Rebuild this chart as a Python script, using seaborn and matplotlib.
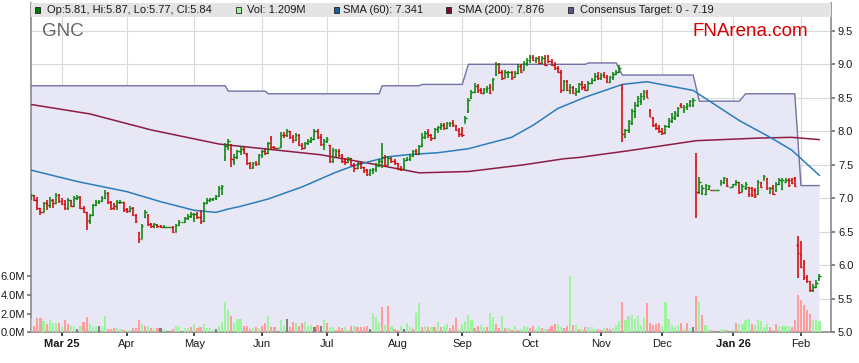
import numpy as np
import pandas as pd
import matplotlib
matplotlib.use("Agg")
import matplotlib.pyplot as plt
from matplotlib.patches import Rectangle
import seaborn as sns

# daily bars, one per weekday from 17 Feb 2025 to 10 Feb 2026
opens = [
    7.02, 7.05, 6.98, 6.85, 6.80, 6.93, 6.90, 6.97, 6.93, 7.05,
    6.96, 6.92, 6.85, 6.97, 6.88, 7.00, 7.02, 6.86, 6.80, 6.66,
    6.75, 6.90, 6.95, 6.96, 7.01, 7.08, 6.94, 6.92, 6.89, 6.95,
    6.95, 6.84, 6.81, 6.86, 6.75, 6.50, 6.40, 6.72, 6.75, 6.62,
    6.57, 6.60, 6.58, 6.57, 6.57, 6.57, 6.57, 6.50, 6.60, 6.65,
    6.65, 6.70, 6.74, 6.72, 6.76, 6.72, 6.66, 6.93, 6.98, 6.99,
    7.00, 7.03, 7.15, 7.62, 7.78, 7.80, 7.56, 7.62, 7.70, 7.74,
    7.66, 7.52, 7.46, 7.52, 7.51, 7.64, 7.70, 7.68, 7.90, 7.76,
    7.75, 7.76, 7.95, 7.94, 8.00, 7.91, 7.87, 7.95, 7.80, 7.75,
    7.82, 7.86, 7.89, 8.00, 7.92, 7.81, 7.86, 7.80, 7.55, 7.66,
    7.70, 7.64, 7.55, 7.54, 7.60, 7.50, 7.45, 7.52, 7.46, 7.42,
    7.36, 7.42, 7.44, 7.48, 7.55, 7.62, 7.50, 7.60, 7.55, 7.52,
    7.44, 7.43, 7.57, 7.58, 7.63, 7.70, 7.66, 7.78, 7.92, 7.97,
    7.94, 7.90, 8.03, 8.06, 8.10, 8.05, 8.10, 8.12, 8.09, 8.02,
    7.98, 8.12, 8.30, 8.50, 8.59, 8.67, 8.62, 8.57, 8.63, 8.66,
    8.62, 8.85, 9.00, 8.89, 8.80, 8.86, 8.88, 8.81, 8.87, 8.97,
    8.92, 9.02, 9.07, 9.11, 9.07, 9.09, 9.02, 9.10, 9.12, 9.05,
    8.99, 8.94, 8.89, 8.62, 8.75, 8.62, 8.66, 8.57, 8.60, 8.70,
    8.66, 8.62, 8.72, 8.77, 8.82, 8.80, 8.84, 8.81, 8.74, 8.81,
    8.86, 8.89, 8.65, 7.92, 8.02, 8.12, 8.30, 8.40, 8.45, 8.52,
    8.60, 8.32, 8.20, 8.10, 8.05, 8.00, 7.97, 8.08, 8.15, 8.20,
    8.25, 8.40, 8.32, 8.37, 8.38, 8.40, 7.55, 7.10, 7.08, 7.07,
    7.14, 7.13, 7.12, 7.12, 7.20, 7.25, 7.28, 7.17, 7.17, 7.20,
    7.24, 7.10, 7.15, 7.17, 7.15, 7.12, 7.07, 7.25, 7.28, 7.30,
    7.10, 7.18, 7.12, 7.22, 7.14, 7.25, 7.28, 7.28, 7.30, 6.30,
    6.15, 6.05, 5.83, 5.76, 5.63, 5.68, 5.81,
]
highs = [
    7.07, 7.05, 7.02, 6.86, 6.95, 6.97, 7.02, 6.99, 7.08, 7.06,
    7.00, 6.97, 7.00, 6.98, 7.03, 7.05, 7.03, 6.88, 6.80, 6.77,
    6.92, 6.97, 6.98, 7.03, 7.12, 7.10, 6.96, 6.93, 6.97, 6.97,
    6.95, 6.86, 6.88, 6.87, 6.76, 6.50, 6.62, 6.83, 6.76, 6.63,
    6.63, 6.62, 6.60, 6.60, 6.57, 6.57, 6.58, 6.62, 6.67, 6.65,
    6.72, 6.76, 6.79, 6.78, 6.80, 6.83, 6.95, 7.00, 7.00, 7.00,
    7.05, 7.18, 7.20, 7.82, 7.88, 7.81, 7.66, 7.72, 7.78, 7.76,
    7.67, 7.54, 7.54, 7.56, 7.66, 7.72, 7.73, 7.84, 7.93, 7.78,
    7.75, 7.99, 7.99, 8.03, 8.01, 7.95, 7.98, 7.96, 7.83, 7.84,
    7.88, 7.92, 8.03, 8.03, 7.96, 7.88, 7.92, 7.80, 7.75, 7.74,
    7.73, 7.66, 7.60, 7.62, 7.60, 7.52, 7.54, 7.54, 7.47, 7.43,
    7.44, 7.45, 7.52, 7.58, 7.82, 7.64, 7.63, 7.62, 7.59, 7.53,
    7.48, 7.60, 7.62, 7.66, 7.72, 7.74, 7.80, 7.98, 8.00, 8.03,
    7.96, 8.05, 8.08, 8.13, 8.12, 8.14, 8.14, 8.17, 8.10, 8.05,
    8.07, 8.23, 8.49, 8.62, 8.72, 8.70, 8.65, 8.65, 8.67, 8.70,
    8.80, 9.03, 9.02, 8.92, 8.92, 8.90, 8.90, 8.90, 9.00, 9.00,
    9.05, 9.10, 9.14, 9.14, 9.11, 9.12, 9.13, 9.14, 9.14, 9.08,
    9.03, 8.97, 8.92, 8.77, 8.77, 8.70, 8.67, 8.64, 8.72, 8.75,
    8.70, 8.75, 8.80, 8.87, 8.89, 8.87, 8.89, 8.84, 8.83, 8.88,
    8.91, 8.99, 8.70, 8.04, 8.17, 8.34, 8.44, 8.52, 8.57, 8.62,
    8.62, 8.34, 8.22, 8.12, 8.10, 8.05, 8.10, 8.20, 8.27, 8.30,
    8.37, 8.42, 8.40, 8.42, 8.47, 8.49, 7.67, 7.32, 7.20, 7.22,
    7.20, 7.13, 7.12, 7.13, 7.27, 7.32, 7.30, 7.17, 7.22, 7.27,
    7.25, 7.22, 7.25, 7.17, 7.17, 7.15, 7.27, 7.25, 7.35, 7.30,
    7.17, 7.20, 7.25, 7.30, 7.30, 7.30, 7.30, 7.30, 7.32, 6.43,
    6.36, 6.08, 5.86, 5.77, 5.72, 5.78, 5.87,
]
lows = [
    6.97, 6.96, 6.82, 6.75, 6.80, 6.83, 6.85, 6.85, 6.92, 6.93,
    6.90, 6.83, 6.83, 6.87, 6.87, 6.97, 6.84, 6.78, 6.53, 6.62,
    6.73, 6.88, 6.92, 6.94, 6.99, 6.92, 6.82, 6.82, 6.83, 6.91,
    6.80, 6.78, 6.80, 6.73, 6.63, 6.33, 6.40, 6.70, 6.58, 6.55,
    6.56, 6.55, 6.55, 6.55, 6.57, 6.57, 6.48, 6.50, 6.58, 6.65,
    6.63, 6.68, 6.71, 6.65, 6.69, 6.62, 6.65, 6.92, 6.94, 6.96,
    6.97, 7.02, 7.05, 7.55, 7.72, 7.47, 7.50, 7.58, 7.65, 7.66,
    7.50, 7.43, 7.44, 7.48, 7.50, 7.60, 7.64, 7.66, 7.72, 7.73,
    7.75, 7.76, 7.90, 7.92, 7.88, 7.83, 7.85, 7.78, 7.72, 7.73,
    7.80, 7.82, 7.87, 7.88, 7.78, 7.72, 7.82, 7.52, 7.52, 7.62,
    7.62, 7.52, 7.50, 7.52, 7.48, 7.40, 7.44, 7.44, 7.38, 7.34,
    7.34, 7.36, 7.40, 7.46, 7.45, 7.46, 7.49, 7.53, 7.50, 7.42,
    7.41, 7.42, 7.55, 7.56, 7.62, 7.64, 7.65, 7.76, 7.88, 7.90,
    7.86, 7.88, 7.98, 8.02, 8.02, 8.04, 8.06, 8.06, 8.00, 7.92,
    7.92, 8.12, 8.28, 8.48, 8.57, 8.57, 8.55, 8.56, 8.57, 8.55,
    8.62, 8.82, 8.86, 8.77, 8.79, 8.80, 8.77, 8.81, 8.86, 8.87,
    8.92, 8.98, 9.02, 9.05, 9.02, 9.00, 9.01, 8.97, 9.02, 8.97,
    8.92, 8.87, 8.57, 8.62, 8.60, 8.55, 8.55, 8.52, 8.57, 8.62,
    8.60, 8.62, 8.70, 8.75, 8.77, 8.77, 8.79, 8.72, 8.72, 8.77,
    8.84, 8.87, 7.84, 7.90, 7.97, 8.10, 8.20, 8.37, 8.40, 8.47,
    8.49, 8.21, 8.07, 8.02, 7.98, 7.95, 7.96, 8.05, 8.12, 8.17,
    8.22, 8.35, 8.27, 8.32, 8.36, 8.36, 6.70, 7.07, 7.05, 7.05,
    7.12, 7.12, 7.12, 7.12, 7.20, 7.22, 7.17, 7.17, 7.17, 7.20,
    7.07, 7.10, 7.12, 7.02, 7.02, 7.00, 7.07, 7.15, 7.27, 7.12,
    7.07, 7.05, 7.10, 7.20, 7.12, 7.24, 7.17, 7.22, 7.17, 5.81,
    5.96, 5.78, 5.73, 5.60, 5.60, 5.66, 5.77,
]
closes = [
    7.05, 6.98, 6.85, 6.80, 6.93, 6.90, 6.97, 6.93, 7.05, 6.96,
    6.92, 6.85, 6.97, 6.88, 7.00, 7.02, 6.86, 6.80, 6.68, 6.75,
    6.90, 6.95, 6.96, 7.01, 7.08, 6.94, 6.85, 6.89, 6.95, 6.95,
    6.82, 6.81, 6.86, 6.75, 6.66, 6.40, 6.58, 6.80, 6.62, 6.58,
    6.61, 6.58, 6.57, 6.57, 6.57, 6.57, 6.50, 6.60, 6.65, 6.65,
    6.70, 6.74, 6.77, 6.76, 6.72, 6.66, 6.93, 6.98, 6.99, 7.00,
    7.03, 7.15, 7.18, 7.78, 7.86, 7.58, 7.62, 7.70, 7.74, 7.68,
    7.52, 7.45, 7.52, 7.51, 7.64, 7.70, 7.68, 7.82, 7.76, 7.75,
    7.75, 7.95, 7.94, 8.00, 7.91, 7.87, 7.95, 7.80, 7.75, 7.82,
    7.86, 7.89, 8.00, 7.92, 7.81, 7.86, 7.88, 7.55, 7.72, 7.70,
    7.64, 7.55, 7.54, 7.60, 7.50, 7.45, 7.52, 7.46, 7.42, 7.36,
    7.42, 7.44, 7.48, 7.55, 7.62, 7.50, 7.60, 7.55, 7.52, 7.44,
    7.43, 7.57, 7.58, 7.63, 7.70, 7.66, 7.78, 7.92, 7.97, 7.94,
    7.90, 8.03, 8.06, 8.10, 8.05, 8.12, 8.12, 8.09, 8.02, 7.96,
    7.95, 8.20, 8.46, 8.59, 8.67, 8.62, 8.57, 8.63, 8.64, 8.57,
    8.78, 9.00, 8.89, 8.80, 8.89, 8.88, 8.81, 8.87, 8.97, 8.89,
    9.02, 9.07, 9.11, 9.07, 9.09, 9.02, 9.10, 8.99, 9.05, 8.99,
    8.94, 8.89, 8.62, 8.75, 8.62, 8.66, 8.57, 8.60, 8.70, 8.66,
    8.62, 8.72, 8.77, 8.82, 8.80, 8.84, 8.81, 8.74, 8.81, 8.86,
    8.89, 8.95, 7.96, 8.02, 8.15, 8.30, 8.40, 8.50, 8.53, 8.58,
    8.50, 8.22, 8.10, 8.05, 8.00, 7.97, 8.08, 8.17, 8.22, 8.27,
    8.35, 8.37, 8.37, 8.40, 8.45, 8.46, 7.10, 7.25, 7.15, 7.20,
    7.18, 7.12, 7.12, 7.12, 7.25, 7.30, 7.18, 7.17, 7.21, 7.25,
    7.10, 7.18, 7.22, 7.07, 7.05, 7.04, 7.24, 7.17, 7.33, 7.15,
    7.15, 7.07, 7.22, 7.28, 7.27, 7.28, 7.20, 7.23, 7.19, 6.18,
    5.98, 5.83, 5.76, 5.63, 5.68, 5.74, 5.84,
]
# volume in millions, and the colour of each volume bar (u up, d down, n unchanged)
volumes = [
    1.5, 0.7, 1.5, 1.5, 1.2, 0.85, 1.3, 1.0, 1.0, 1.0,
    0.55, 1.3, 0.85, 0.65, 0.7, 0.4, 0.7, 1.15, 1.6, 0.85,
    0.6, 0.7, 0.7, 0.6, 1.7, 0.4, 0.4, 0.5, 0.45, 0.4,
    0.3, 0.2, 0.25, 0.5, 0.45, 1.3, 0.85, 0.7, 0.7, 0.5,
    0.4, 0.5, 0.5, 0.4, 0, 0, 0.4, 0.7, 0.65, 0,
    0.5, 0.45, 0.6, 0.85, 0.5, 0.6, 0.85, 0.5, 0.45, 0.3,
    0.4, 0.7, 1.1, 3.3, 2.4, 1.8, 1.0, 1.45, 1.4, 0.7,
    0.7, 0.4, 0.5, 0.6, 0.5, 0.7, 1.0, 1.7, 0.6, 0.6,
    0, 1.3, 0.7, 1.4, 0.6, 1.07, 0.96, 0.7, 0.96, 1.07,
    0.7, 0.82, 0.54, 0.82, 0.7, 1.36, 1.04, 0.6, 0.54, 0.29,
    0.6, 0.43, 0.54, 0.29, 0.7, 0.7, 0.6, 0.54, 0.6, 0.7,
    0.36, 2.04, 1.6, 0.96, 2.68, 0.82, 2.79, 0.7, 0.36, 0.29,
    0.7, 0.36, 1.04, 0.6, 0.36, 2.1, 3.18, 0.6, 0.7, 0.6,
    0.6, 0.6, 1.14, 0.6, 0.7, 0.93, 0.5, 0.82, 1.57, 0.39,
    0.93, 1.25, 1.9, 1.36, 0.5, 0.7, 0.82, 0.6, 0.6, 2.1,
    1.68, 0.93, 0.5, 1.79, 0.5, 0.46, 0.29, 0.7, 0.29, 0.39,
    0.7, 0.6, 0.5, 0.7, 0.39, 0.7, 0.5, 0.39, 0.39, 0.7,
    0.93, 0.93, 0.6, 0.5, 0.7, 6.0, 0.73, 0.73, 0.4, 0.4,
    0.55, 0.62, 0.62, 0.4, 0.4, 0.29, 0.51, 0.51, 0.4, 0.51,
    0.73, 1.16, 3.24, 1.27, 1.71, 1.82, 1.38, 1.71, 0.73, 1.49,
    3.09, 1.05, 0.73, 0.91, 1.05, 0.7, 3.24, 1.45, 0.73, 0.62,
    0.73, 1.05, 0.4, 1.0, 0.4, 0.62, 3.9, 3.24, 1.82, 0.73,
    0.4, 0.2, 0, 0, 0.4, 0.4, 0.2, 0, 0.29, 1.05,
    0.9, 0.9, 1.27, 1.45, 0.9, 0.73, 1.35, 1.16, 0.62, 0.9,
    0.62, 0.29, 0.84, 0.7, 0.7, 0.7, 0.7, 0.62, 1.27, 4.0,
    3.45, 2.9, 2.36, 1.93, 1.27, 1.27, 1.209,
]
vol_dir = (
    "dddduduuud" "udduunuddu" "uunuuddduu" "duudddudud" "udnunnduun"
    "uududduuuu" "nuuuuduuud" "ddududdudd" "nuundduddu" "uundnuduud"
    "dduududddd" "nuuudududd" "unuuduudud" "ududuudddu" "uuuudduudu"
    "uddudududu" "uudduududd" "duuddududu" "duuudduddu" "uuduuuuuuu"
    "ddddduuuuu" "ududundudu" "udnnuudnud" "uuuuduuuuu" "ddduuuuddd"
    "dddduuu"
)

# moving averages and broker consensus target, sampled at bar indices
sma60_idx = [0, 15, 31, 42, 53, 60, 64, 68, 77, 88, 99, 105, 116, 122, 132,
             142, 156, 163, 171, 180, 192, 200, 215, 230, 240, 247, 256]
sma60_val = [7.42, 7.25, 7.10, 6.95, 6.82, 6.79, 6.84, 6.88, 6.99, 7.17, 7.39,
             7.49, 7.62, 7.65, 7.68, 7.74, 7.91, 8.09, 8.34, 8.51, 8.70, 8.74,
             8.61, 8.16, 7.91, 7.72, 7.341]
sma200_idx = [0, 19, 39, 61, 94, 110, 126, 142, 160, 173, 178, 194, 216, 237,
              247, 256]
sma200_val = [8.40, 8.26, 8.02, 7.81, 7.65, 7.52, 7.38, 7.40, 7.50, 7.59, 7.61,
              7.71, 7.86, 7.90, 7.91, 7.876]
target_idx = [0, 63, 64, 76, 77, 113, 114, 126, 127, 140, 142, 180, 181, 190,
              192, 215, 217, 230, 232, 248, 250, 256]
target_val = [8.68, 8.68, 8.60, 8.60, 8.56, 8.56, 8.68, 8.68, 8.70, 8.70, 9.00,
              9.00, 9.02, 9.02, 8.84, 8.84, 8.45, 8.45, 8.56, 8.56, 7.19, 7.19]

sns.set_theme(style="white")
plt.rcParams["font.family"] = ["Liberation Sans", "DejaVu Sans"]

opens, highs, lows, closes = map(np.array, (opens, highs, lows, closes))
n = len(closes)
idx = np.arange(n)
dates = pd.bdate_range("2025-02-17", periods=n)

GREEN, RED = "#008000", "#d40000"
VOL_COLORS = {"u": "#9cf59c", "d": "#ff9d9d", "n": "#808080"}
LAVENDER = "#e7e7f6"

# figure layout in pixels
W, H = 859, 363
L, R, T, B = 30.7, 831.0, 3.0, 332.3
X0, DX = 31.2, 3.079          # pixel of first bar, pixels per bar
PX_PER_PRICE, PX_PER_M = 67.0, 9.33


def fx(px):
    return px / W


def fy(py):
    return 1 - py / H


fig = plt.figure(figsize=(W / 100, H / 100), dpi=100)
ax = fig.add_axes([fx(L), fy(B), fx(R) - fx(L), fy(T) - fy(B)])
ax_vol = ax.twinx()
ax_px = ax.twinx()

price_lim = (5.0, 5.0 + (B - T) / PX_PER_PRICE)
ax.set_ylim(*price_lim)
ax_px.set_ylim(*price_lim)
ax_vol.set_ylim(0, (B - T) / PX_PER_M)
xlim = ((L - X0) / DX, (R - X0) / DX)

# consensus target band (drawn over the grid)
ax.fill_between(target_idx, 0, target_val, color=LAVENDER, lw=0, zorder=1)
sns.lineplot(x=target_idx, y=target_val, ax=ax, color="#7272a4", lw=1.0, zorder=3)

# volume
vol_df = pd.DataFrame({"i": idx, "vol": volumes, "dir": list(vol_dir)})
sns.barplot(data=vol_df, x="i", y="vol", hue="dir", palette=VOL_COLORS,
            native_scale=True, dodge=False, width=0.7, saturation=1,
            linewidth=0, errorbar=None, legend=False, ax=ax_vol)

# moving averages
sns.lineplot(x=sma200_idx, y=sma200_val, ax=ax_px, color="#8c1c44", lw=1.1, zorder=3)
sns.lineplot(x=sma60_idx, y=sma60_val, ax=ax_px, color="#2b7cbd", lw=1.1, zorder=3)

# OHLC bars
cols = np.where(closes >= opens, GREEN, RED)
ax_px.vlines(idx, lows, highs, colors=cols, lw=1.1, zorder=4)
ax_px.hlines(opens, idx - 0.45, idx, colors=cols, lw=1.0, zorder=4)
ax_px.hlines(closes, idx, idx + 0.45, colors=cols, lw=1.0, zorder=4)

# axes, ticks, grid
month_idx = [i for i in range(1, n) if dates[i].month != dates[i - 1].month]
month_lab = [dates[i].strftime("%b %y") if (k == 0 or dates[i].month == 1)
             else dates[i].strftime("%b") for k, i in enumerate(month_idx)]

for a in (ax, ax_vol, ax_px):
    a.set_xlim(*xlim)
    a.set_xlabel("")
    a.set_ylabel("")
    for s in a.spines.values():
        s.set_visible(False)

ax.set_xticks(month_idx)
ax.set_xticklabels(month_lab)
for k, lab in enumerate(ax.get_xticklabels()):
    if k == 0 or dates[month_idx[k]].month == 1:
        lab.set_fontweight("bold")
ax.set_yticks(np.arange(5.0, 9.51, 0.5))
ax.set_yticklabels([f"{v:.1f}" for v in np.arange(5.0, 9.51, 0.5)])
ax.yaxis.tick_right()
ax.grid(True, color="#d9d9d9", lw=0.8)
ax.set_axisbelow(True)
ax.tick_params(axis="x", length=3, color="#333333", labelsize=8,
               labelcolor="#1a1a1a", pad=2, bottom=True)
ax.tick_params(axis="y", length=3, color="#777777", labelsize=8,
               labelcolor="#1a1a1a", pad=2, right=True, left=False,
               labelright=True, labelleft=False)
for side in ("left", "bottom", "right"):
    ax.spines[side].set_visible(True)
    ax.spines[side].set_color("#8a8a8a")
    ax.spines[side].set_linewidth(1.2)

ax_vol.yaxis.tick_left()
ax_vol.set_yticks([0, 2, 4, 6])
ax_vol.set_yticklabels(["0.0M", "2.0M", "4.0M", "6.0M"])
ax_vol.tick_params(axis="y", length=3, color="#777777", labelsize=8,
                   labelcolor="#1a1a1a", pad=1, left=True, right=False,
                   labelleft=True, labelright=False)
ax_vol.patch.set_visible(False)
ax_px.patch.set_visible(False)
ax_px.yaxis.set_visible(False)
ax_px.xaxis.set_visible(False)

# header strip with the legend
strip_h = (16.7 - T) / (B - T)
ax_px.add_patch(Rectangle((0, 1 - strip_h), 1, strip_h, transform=ax_px.transAxes,
                          facecolor="#e4e4e4", edgecolor="none", zorder=6,
                          clip_on=False))

legend_items = [
    (37.5, 47, "#007a00",
     f"Op:{opens[-1]:.2f}, Hi:{highs[-1]:.2f}, Lo:{lows[-1]:.2f}, Cl:{closes[-1]:.2f}"),
    (238.5, 247, "#9cf59c", f"Vol: {volumes[-1]:.3f}M"),
    (336.5, 343, "#1a5e9e", f"SMA (60): {sma60_val[-1]:.3f}"),
    (449.0, 458, "#7a0a2c", f"SMA (200): {sma200_val[-1]:.3f}"),
    (570.5, 580, "#56568a", f"Consensus Target: 0 - {target_val[-1]:.2f}"),
]
sq = 5.0
for cx, tx, color, text in legend_items:
    fig.add_artist(Rectangle((fx(cx - sq / 2), fy(10 + sq / 2)), sq / W, sq / H,
                             transform=fig.transFigure, facecolor=color,
                             edgecolor="#222222", lw=0.6, zorder=10))
    fig.text(fx(tx), fy(10), text, fontsize=8, color="#1a1a1a",
             ha="left", va="center", zorder=10)

fig.text(fx(42), fy(32), "GNC", fontsize=13.5, color="#666666",
         ha="left", va="center")
fig.text(fx(692), fy(31), "FNArena.com", fontsize=13.5, color="#d40000",
         ha="left", va="center")

fig.savefig("out.png", dpi=100)
